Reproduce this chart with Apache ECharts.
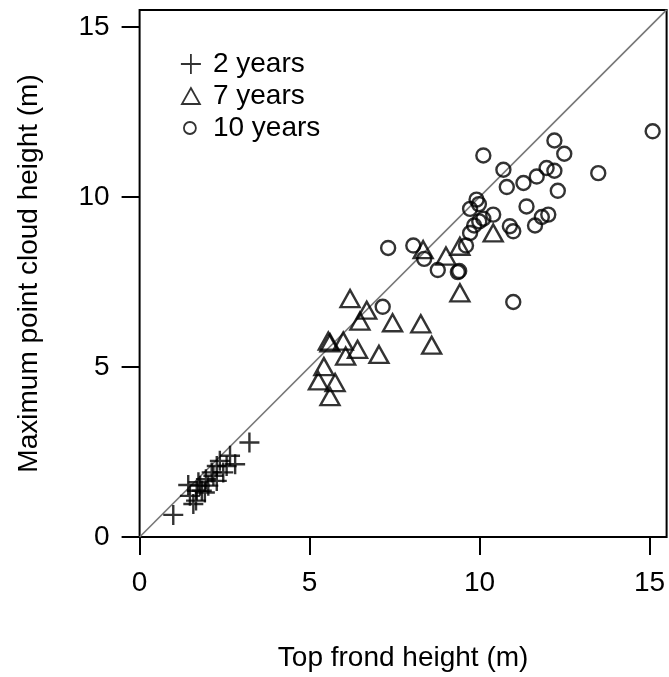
<!DOCTYPE html>
<html>
<head>
<meta charset="utf-8">
<script src="https://cdn.jsdelivr.net/npm/echarts@6/dist/echarts.min.js"></script>
<style>
  html, body { margin: 0; padding: 0; background: #fff; }
  #chart { width: 669px; height: 677px; }
</style>
</head>
<body>
<div id="chart"></div>
<script>
// 2 年树龄（+）
const plusX = [0.99, 3.23, 1.43, 1.66, 1.48, 1.78, 1.95, 2.12, 2.27, 2.36, 2.66, 2.81, 2.46, 2.27, 1.92, 1.68, 2.02, 2.56, 2.17, 1.83, 1.58, 1.73];
const plusY = [0.65, 2.78, 1.53, 1.07, 1.21, 1.51, 1.70, 1.90, 2.09, 2.24, 2.39, 2.14, 1.90, 1.65, 1.31, 1.36, 1.51, 2.09, 1.80, 1.36, 0.97, 1.61];

// 7 年树龄（△）
const triX = [6.19, 6.68, 6.48, 7.44, 8.27, 8.59, 5.55, 5.60, 5.99, 6.41, 6.06, 7.04, 5.42, 5.26, 5.75, 5.60, 8.34, 9.01, 9.42, 10.40, 9.42];
const triY = [7.01, 6.67, 6.35, 6.30, 6.27, 5.64, 5.76, 5.71, 5.76, 5.52, 5.32, 5.37, 5.01, 4.59, 4.54, 4.13, 8.45, 8.26, 8.55, 8.94, 7.18];

// 10 年树龄（○）
const circX = [15.09, 13.49, 10.11, 12.20, 12.49, 10.70, 11.97, 12.20, 11.68, 11.29, 10.80, 12.30, 9.91, 9.98, 9.72, 10.40, 11.38, 12.02,
  11.83, 11.63, 10.11, 9.99, 9.84, 10.89, 10.99, 9.72, 9.60, 7.31, 8.05, 8.37, 8.77, 9.36, 9.40, 10.99, 7.15];
const circY = [11.93, 10.70, 11.22, 11.66, 11.27, 10.80, 10.85, 10.77, 10.60, 10.41, 10.29, 10.18, 9.92, 9.79, 9.65, 9.48, 9.72, 9.48,
  9.41, 9.16, 9.36, 9.28, 9.16, 9.14, 8.99, 8.94, 8.57, 8.50, 8.57, 8.18, 7.85, 7.79, 7.82, 6.91, 6.77];

// 1:1 参考线
const refLine = [0, 15.5];
const tickValues = [0, 5, 10, 15];

const FONT = '"Liberation Sans", Arial, sans-serif';
const plusPath = 'path://M0,10H20M10,0V20';
const hollow = { color: 'rgba(0,0,0,0)', borderColor: '#000', borderWidth: 2.4 };

const pairs = (xs, ys) => xs.map((x, i) => [x, ys[i]]);

const textStyle = { fontFamily: FONT, fontSize: 28, color: '#000' };

function legendItem(name, icon, left, top, w, h, gap) {
  return {
    show: true,
    left: left,
    top: top,
    padding: 0,
    itemWidth: w,
    itemHeight: h,
    orient: 'vertical',
    selectedMode: false,
    data: [{ name: name, icon: icon, itemStyle: { color: 'rgba(0,0,0,0)', borderColor: '#000', borderWidth: 1.8 } }],
    textStyle: Object.assign({}, textStyle, { lineHeight: 30, padding: [0, 0, 0, gap] }),
  };
}

const chart = echarts.init(document.getElementById('chart'));
chart.setOption({
  animation: false,
  backgroundColor: '#fff',
  grid: {
    left: 139.6, right: 2.4, top: 9.9, bottom: 139,
    show: true, borderColor: '#000', borderWidth: 2, backgroundColor: 'rgba(0,0,0,0)',
  },
  legend: [
    legendItem('2 years', plusPath, 180, 49, 20, 20, 7),
    legendItem('7 years', 'triangle', 181, 81, 18, 16, 8),
    legendItem('10 years', 'circle', 183, 113, 12, 12, 12),
  ],
  xAxis: {
    type: 'value', min: 0, max: 15.5, interval: 5,
    splitLine: { show: false },
    axisLine: { show: false },
    axisTick: { show: true, length: 18, customValues: tickValues, lineStyle: { color: '#000', width: 2 } },
    axisLabel: Object.assign({ customValues: tickValues, margin: 32 }, textStyle),
    name: 'Top frond height (m)', nameLocation: 'middle', nameGap: 107,
    nameTextStyle: textStyle,
  },
  yAxis: {
    type: 'value', min: 0, max: 15.5, interval: 5,
    splitLine: { show: false },
    axisLine: { show: false },
    axisTick: { show: true, length: 18, customValues: tickValues, lineStyle: { color: '#000', width: 2 } },
    axisLabel: Object.assign({ customValues: tickValues, margin: 30 }, textStyle),
    name: 'Maximum point cloud height (m)', nameLocation: 'middle', nameGap: 96, nameRotate: 90,
    nameTextStyle: textStyle,
  },
  series: [
    {
      type: 'line', silent: true, symbol: 'none', z: 1,
      data: pairs(refLine, refLine),
      lineStyle: { color: '#777', width: 1.6 },
    },
    {
      name: '2 years', type: 'scatter', z: 3,
      symbol: plusPath, symbolSize: 20,
      data: pairs(plusX, plusY),
      itemStyle: hollow,
    },
    {
      name: '7 years', type: 'scatter', z: 3,
      symbol: 'triangle', symbolSize: [19, 17],
      data: pairs(triX, triY),
      itemStyle: hollow,
    },
    {
      name: '10 years', type: 'scatter', z: 3,
      symbol: 'circle', symbolSize: 14,
      data: pairs(circX, circY),
      itemStyle: hollow,
    },
  ],
});
</script>
</body>
</html>
